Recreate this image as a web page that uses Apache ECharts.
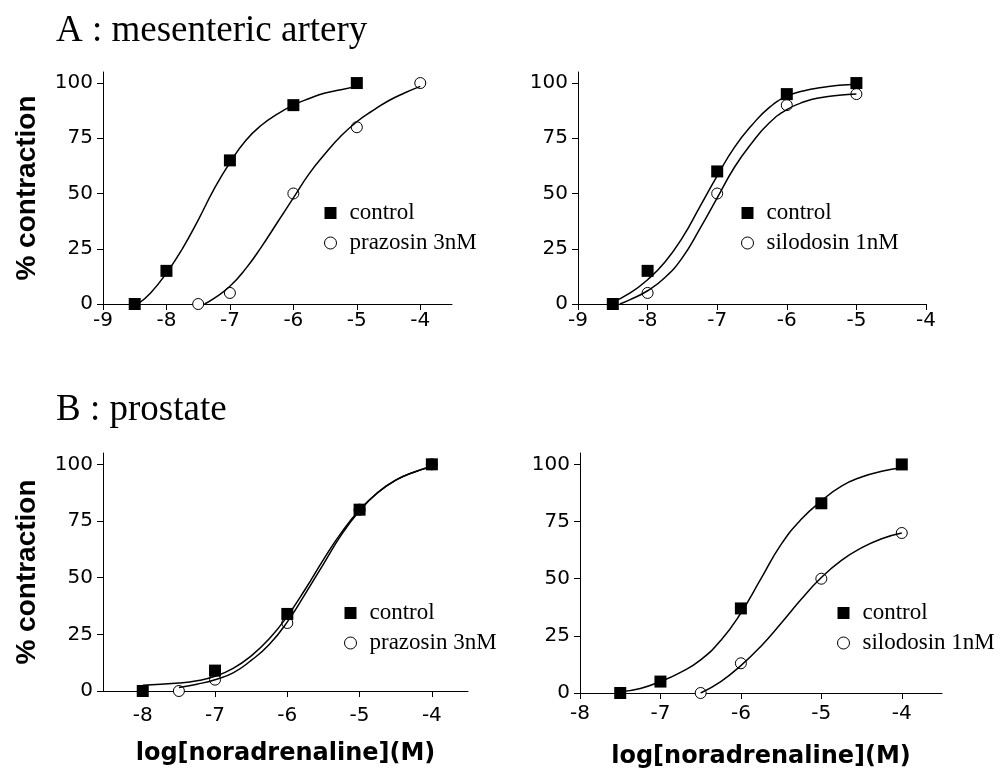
<!DOCTYPE html>
<html>
<head>
<meta charset="utf-8">
<script src="https://cdn.jsdelivr.net/npm/echarts@6/dist/echarts.min.js"></script>
<style>
  html, body { margin: 0; padding: 0; background: #fff; }
  #chart { width: 1008px; height: 771px; }
</style>
</head>
<body>
<div id="chart"></div>
<script>
// tick labels
const xTicksA = [-9, -8, -7, -6, -5, -4];
const xTicksB = [-8, -7, -6, -5, -4];
const yTicks = [0, 25, 50, 75, 100];

// A : mesenteric artery, prazosin panel
const aPrzControl = [[-8.5, 0], [-8, 15], [-7, 65], [-6, 90], [-5, 100]];
const aPrzDrug = [[-7.5, 0], [-7, 5], [-6, 50], [-5, 80], [-4, 100]];
const aPrzControlFit = [[-8.45, 0], [-8.25, 5], [-8, 14], [-7.75, 25], [-7.5, 38], [-7.25, 52], [-7, 64],
  [-6.75, 74], [-6.5, 81], [-6.25, 86], [-6, 90], [-5.75, 93], [-5.5, 95.5], [-5.25, 97], [-5, 98.5]];
const aPrzDrugFit = [[-7.4, 0], [-7.25, 2.5], [-7, 8], [-6.75, 16], [-6.5, 26], [-6.25, 37], [-6, 48],
  [-5.75, 59], [-5.5, 68], [-5.25, 76], [-5, 82.5], [-4.75, 87.5], [-4.5, 92], [-4.25, 95.5], [-4, 98.5]];

// A : mesenteric artery, silodosin panel
const aSilControl = [[-8.5, 0], [-8, 15], [-7, 60], [-6, 95], [-5, 100]];
const aSilDrug = [[-8, 5], [-7, 50], [-6, 90], [-5, 95]];
const aSilControlFit = [[-8.55, 0], [-8.25, 5], [-8, 11], [-7.75, 19], [-7.5, 30], [-7.25, 44], [-7, 58],
  [-6.75, 71], [-6.5, 81], [-6.25, 89], [-6, 94], [-5.75, 96.5], [-5.5, 98], [-5.25, 99], [-5, 99.5]];
const aSilDrugFit = [[-8.4, 0], [-8.25, 2], [-8, 6], [-7.75, 12], [-7.5, 21], [-7.25, 34], [-7, 48],
  [-6.75, 62], [-6.5, 73], [-6.25, 82], [-6, 88], [-5.75, 91.5], [-5.5, 93.5], [-5.25, 94.5], [-5, 95]];

// B : prostate, prazosin panel
const bPrzControl = [[-8, 0], [-7, 9], [-6, 34], [-5, 80], [-4, 100]];
const bPrzDrug = [[-7.5, 0], [-7, 5], [-6, 30], [-5, 80], [-4, 100]];
const bPrzControlFit = [[-8, 2.5], [-7.5, 3.5], [-7.25, 4.5], [-7, 6.5], [-6.75, 10], [-6.5, 15.5], [-6.25, 23],
  [-6, 33], [-5.75, 45], [-5.5, 58], [-5.25, 70], [-5, 80], [-4.75, 87.5], [-4.5, 93], [-4.25, 96.5], [-4, 99]];
const bPrzDrugFit = [[-7.5, 1.5], [-7.25, 3], [-7, 5], [-6.75, 8], [-6.5, 13.5], [-6.25, 20.5],
  [-6, 30.5], [-5.75, 43], [-5.5, 56], [-5.25, 69], [-5, 79.5], [-4.75, 87.5], [-4.5, 93], [-4.25, 96.5], [-4, 99]];

// B : prostate, silodosin panel
const bSilControl = [[-7.5, 0], [-7, 5], [-6, 37], [-5, 83], [-4, 100]];
const bSilDrug = [[-6.5, 0], [-6, 13], [-5, 50], [-4, 70]];
const bSilControlFit = [[-7.5, 0.5], [-7.25, 2], [-7, 5], [-6.75, 9], [-6.5, 14.5], [-6.25, 23], [-6, 35],
  [-5.75, 50], [-5.5, 65], [-5.25, 76], [-5, 84], [-4.75, 90.5], [-4.5, 94.5], [-4.25, 97], [-4, 98.5]];
const bSilDrugFit = [[-6.5, 0], [-6.25, 5], [-6, 12], [-5.75, 20.5], [-5.5, 30.5], [-5.25, 41], [-5, 50.5],
  [-4.75, 58], [-4.5, 63.5], [-4.25, 67.5], [-4, 70]];

const chart = echarts.init(document.getElementById('chart'));

const panels = [
  { grid: { left: 103, top: 72, width: 349, height: 232 }, xMin: -9, xMax: -3.5, ticks: xTicksA,
    drug: 'prazosin 3nM', control: aPrzControl, treated: aPrzDrug, controlFit: aPrzControlFit, treatedFit: aPrzDrugFit,
    yName: '% contraction', xName: '', labelMargin: 7, nameGap: 44, legend: { left: 324, top: 201 } },
  { grid: { left: 578, top: 72, width: 348, height: 232 }, xMin: -9, xMax: -4, ticks: xTicksA,
    drug: 'silodosin 1nM', control: aSilControl, treated: aSilDrug, controlFit: aSilControlFit, treatedFit: aSilDrugFit,
    yName: '', xName: '', labelMargin: 7, nameGap: 44, legend: { left: 741, top: 201 } },
  { grid: { left: 103, top: 453, width: 365, height: 238 }, xMin: -8.55, xMax: -3.5, ticks: xTicksB,
    drug: 'prazosin 3nM', control: bPrzControl, treated: bPrzDrug, controlFit: bPrzControlFit, treatedFit: bPrzDrugFit,
    yName: '% contraction', xName: 'log[noradrenaline](M)', labelMargin: 15, nameGap: 51, legend: { left: 344, top: 601 } },
  { grid: { left: 580, top: 453, width: 362, height: 240 }, xMin: -8, xMax: -3.5, ticks: xTicksB,
    drug: 'silodosin 1nM', control: bSilControl, treated: bSilDrug, controlFit: bSilControlFit, treatedFit: bSilDrugFit,
    yName: '', xName: 'log[noradrenaline](M)', labelMargin: 11, nameGap: 52, legend: { left: 837, top: 601 } }
];

const axisCommon = {
  axisLine: { show: true, onZero: false, lineStyle: { color: '#000', width: 1 } },
  axisTick: { show: true, length: 6, lineStyle: { color: '#000', width: 1 } },
  splitLine: { show: false }
};

const tickFont = { color: '#000', fontFamily: 'DejaVu Sans', fontSize: 20 };

const option = {
  animation: false,
  backgroundColor: '#fff',
  title: [
    { text: 'A : mesenteric artery', left: 56, top: 13, padding: 0,
      textStyle: { fontFamily: 'Liberation Serif', fontSize: 37, fontWeight: 'normal', color: '#000' } },
    { text: 'B : prostate', left: 56, top: 392, padding: 0,
      textStyle: { fontFamily: 'Liberation Serif', fontSize: 37, fontWeight: 'normal', color: '#000' } }
  ],
  grid: panels.map(p => p.grid),
  xAxis: panels.map((p, i) => ({
    type: 'value', gridIndex: i, min: p.xMin, max: p.xMax,
    ...axisCommon,
    axisTick: { ...axisCommon.axisTick, customValues: p.ticks },
    axisLabel: { ...tickFont, margin: p.labelMargin, customValues: p.ticks },
    name: p.xName, nameLocation: 'middle', nameGap: p.nameGap,
    nameTextStyle: { fontFamily: 'DejaVu Sans', fontWeight: 'bold', fontSize: 24, color: '#000' }
  })),
  yAxis: panels.map((p, i) => ({
    type: 'value', gridIndex: i, min: 0, max: 105,
    ...axisCommon,
    axisTick: { ...axisCommon.axisTick, customValues: yTicks },
    axisLabel: { ...tickFont, margin: 10, customValues: yTicks },
    name: p.yName, nameLocation: 'middle', nameGap: 62,
    nameTextStyle: { fontFamily: 'Liberation Sans', fontWeight: 'bold', fontSize: 28, color: '#000' }
  })),
  legend: panels.map(p => ({
    left: p.legend.left, top: p.legend.top, orient: 'vertical', padding: 0,
    itemWidth: 12, itemHeight: 12, itemGap: 6, selectedMode: false,
    textStyle: { fontFamily: 'Liberation Serif', fontSize: 23, lineHeight: 24, color: '#000', padding: [0, 0, 0, 8] },
    data: [
      { name: 'control', icon: 'rect', itemStyle: { color: '#000', borderWidth: 0 } },
      { name: p.drug, icon: 'circle', itemStyle: { color: '#fff', borderColor: '#000', borderWidth: 1 } }
    ]
  })),
  series: panels.flatMap((p, i) => [
    { name: p.drug + ' fit ' + i, type: 'line', xAxisIndex: i, yAxisIndex: i, data: p.treatedFit,
      smooth: 0.5, showSymbol: false, silent: true, lineStyle: { color: '#000', width: 1.5 } },
    { name: 'control fit ' + i, type: 'line', xAxisIndex: i, yAxisIndex: i, data: p.controlFit,
      smooth: 0.5, showSymbol: false, silent: true, lineStyle: { color: '#000', width: 1.5 } },
    { name: p.drug, type: 'scatter', xAxisIndex: i, yAxisIndex: i, data: p.treated,
      symbol: 'circle', symbolSize: 11, silent: true,
      itemStyle: { color: '#fff', borderColor: '#000', borderWidth: 1, opacity: 1 } },
    { name: 'control', type: 'scatter', xAxisIndex: i, yAxisIndex: i, data: p.control,
      symbol: 'rect', symbolSize: 12, silent: true,
      itemStyle: { color: '#000', opacity: 1 } }
  ])
};

chart.setOption(option);
</script>
</body>
</html>
